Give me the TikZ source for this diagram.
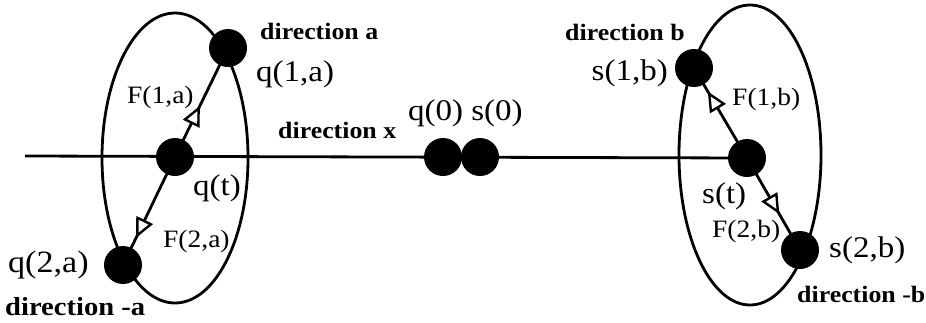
\documentclass[tikz,border=0pt]{standalone}
\usepackage{fontspec}
\setmainfont{Liberation Serif}[FakeStretch=1.1]
\usetikzlibrary{arrows.meta,decorations.markings}
\begin{document}
\begin{tikzpicture}[x=1pt,y=-1pt,
 dot/.style={circle,fill=black,minimum size=38pt,inner sep=0pt},
 conn/.style={line width=2.8pt},
 ring/.style={line width=2.8pt},
 lbl/.style={inner sep=0pt,anchor=base west},
 big/.style={font=\fontsize{30}{36}\selectfont},
 mid/.style={font=\fontsize{25}{30}\selectfont},
 dir/.style={font=\fontsize{23.5}{28}\selectfont\bfseries},
 fa/.style={postaction={decorate,decoration={markings,mark=at position #1 with {\arrow{Triangle[fill=white,length=20pt,width=18pt,line width=2.4pt]}}}}}
]
\useasboundingbox (0,0) rectangle (926,322);
\draw[ring] (175,158) ellipse [x radius=73pt, y radius=145pt];
\draw[ring] (750,155) ellipse [x radius=71pt, y radius=150pt];
\coordinate (L) at (25,156);
\node[dot] (qt) at (175,157) {};
\node[dot] (q1a) at (228,48) {};
\node[dot] (q2a) at (123,265) {};
\node[dot] (q0) at (443,157) {};
\node[dot] (s0) at (480,157) {};
\node[dot] (s1b) at (694,68) {};
\node[dot] (st) at (747,158) {};
\node[dot] (s2b) at (800,250) {};
\draw[conn] (L) -- (st.center);
\draw[conn,fa=0.47] (qt.center) -- (q1a.center);
\draw[conn,fa=0.75] (qt.center) -- (q2a.center);
\draw[conn,fa=0.74] (st.center) -- (s1b.center);
\draw[conn,fa=0.61] (st.center) -- (s2b.center);
\node[lbl,dir] (da) at (260,39) {direction a};
\node[lbl,big] (lq1a) at (256,81) {q(1,a)};
\node[lbl,mid] (fa1) at (127,103) {F(1,a)};
\node[lbl,big] (lqt) at (193,195) {q(t)};
\node[lbl,mid] (fa2) at (163,247) {F(2,a)};
\node[lbl,font=\fontsize{31}{37}\selectfont] (lq2a) at (8,272) {q(2,a)};
\node[lbl,font=\fontsize{26}{31}\selectfont\bfseries] (dma) at (5,315) {direction -a};
\node[lbl,dir] (dx) at (278,138) {direction x};
\node[lbl,big] (lq0) at (408,120) {q(0) s(0)};
\node[lbl,dir] (db) at (565,40) {direction b};
\node[lbl,big,anchor=base east] (ls1b) at (668,80) {s(1,b)};
\node[lbl,mid] (fb1) at (732,105) {F(1,b)};
\node[lbl,big] (lst) at (702,203) {s(t)};
\node[lbl,mid] (fb2) at (712,237) {F(2,b)};
\node[lbl,big] (ls2b) at (829,257) {s(2,b)};
\node[lbl,font=\fontsize{23.5}{28}\selectfont\bfseries] (dmb) at (797,302) {direction -b};
\end{tikzpicture}
\end{document}
